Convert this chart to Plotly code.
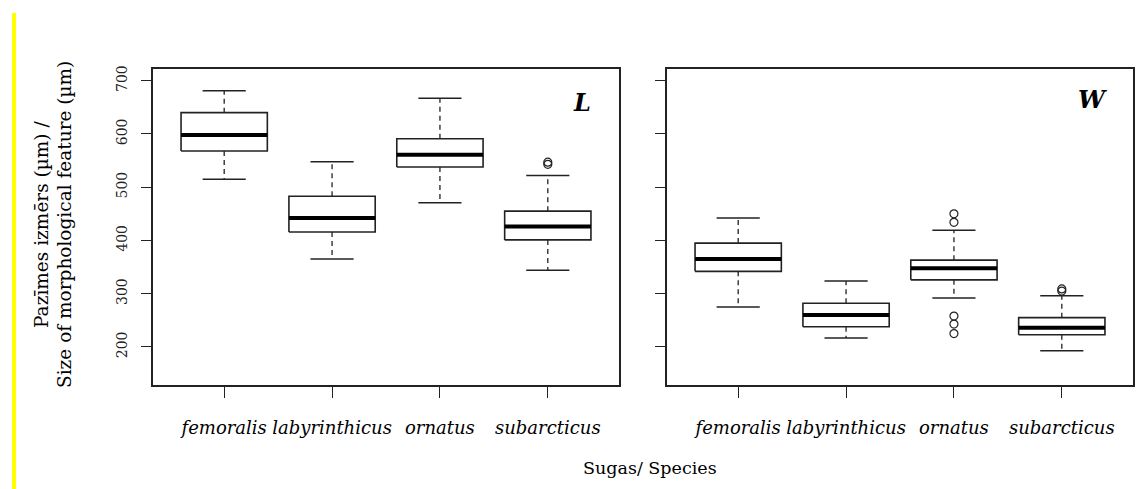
import plotly.graph_objects as go

# Species on the x axis (positions 1..4)
species = ["femoralis", "labyrinthicus", "ornatus", "subarcticus"]
positions = [1, 2, 3, 4]

# Length (L), µm: whisker ends, quartiles, median
L_lower = [515, 365, 471, 344]
L_q1 = [568, 416, 538, 401]
L_median = [598, 442, 561, 426]
L_q3 = [640, 483, 591, 455]
L_upper = [681, 548, 667, 522]
L_outliers = [[], [], [], [543, 547]]

# Width (W), µm
W_lower = [275, 217, 292, 193]
W_q1 = [342, 238, 326, 223]
W_median = [365, 260, 348, 236]
W_q3 = [395, 282, 363, 255]
W_upper = [442, 324, 419, 296]
W_outliers = [[], [], [450, 434, 258, 243, 225], [305, 309]]

y_ticks = [200, 300, 400, 500, 600, 700]

FONT = "DejaVu Serif"
INK = "#222222"
HALF = 0.4   # half box width
CAP = 0.2    # half staple width

fig = go.Figure()


def add_boxplots(lower, q1, med, q3, upper, outliers, xa, ya):
    bx, by, mx, my, wx, wy, cx, cy, ox, oy = ([] for _ in range(10))
    for p, lo, a, m, b, hi, outs in zip(positions, lower, q1, med, q3, upper, outliers):
        bx += [p - HALF, p + HALF, p + HALF, p - HALF, p - HALF, None]
        by += [a, a, b, b, a, None]
        mx += [p - HALF, p + HALF, None]
        my += [m, m, None]
        wx += [p, p, None, p, p, None]
        wy += [b, hi, None, a, lo, None]
        cx += [p - CAP, p + CAP, None, p - CAP, p + CAP, None]
        cy += [hi, hi, None, lo, lo, None]
        ox += [p] * len(outs)
        oy += list(outs)
    common = dict(xaxis=xa, yaxis=ya, showlegend=False, hoverinfo="skip")
    fig.add_trace(go.Scatter(x=wx, y=wy, mode="lines",
                             line=dict(color=INK, width=1.3, dash="5px,4px"), **common))
    fig.add_trace(go.Scatter(x=cx, y=cy, mode="lines",
                             line=dict(color=INK, width=1.5), **common))
    fig.add_trace(go.Scatter(x=bx, y=by, mode="lines", fill="toself", fillcolor="white",
                             line=dict(color=INK, width=1.6), **common))
    fig.add_trace(go.Scatter(x=mx, y=my, mode="lines",
                             line=dict(color="black", width=4), **common))
    fig.add_trace(go.Scatter(x=ox, y=oy, mode="markers",
                             marker=dict(symbol="circle-open", size=8, color=INK,
                                         line=dict(width=1.2)), **common))


add_boxplots(L_lower, L_q1, L_median, L_q3, L_upper, L_outliers, "x", "y")
add_boxplots(W_lower, W_q1, W_median, W_q3, W_upper, W_outliers, "x2", "y2")

xaxis_common = dict(
    range=[0.34, 4.66], tickmode="array", tickvals=positions,
    ticktext=[f"<i>{s}</i>" for s in species], tickangle=0,
    ticks="outside", ticklen=11, tickwidth=1.2, tickcolor=INK,
    showline=True, linecolor=INK, linewidth=1.5, mirror=True,
    showgrid=False, zeroline=False, automargin=False,
    tickfont=dict(family=FONT, size=18, color="black"), ticklabelstandoff=15,
)
yaxis_common = dict(
    range=[128.5, 722], tickmode="array", tickvals=y_ticks,
    ticks="outside", ticklen=10, tickwidth=1.2, tickcolor=INK,
    showline=True, linecolor=INK, linewidth=1.5, mirror=True,
    showgrid=False, zeroline=False, automargin=False,
    tickfont=dict(family=FONT, size=14, color="#222"), tickangle=-90,
    domain=[1 - 385 / 489, 1 - 69 / 489],
)

fig.update_layout(
    width=1142, height=489,
    margin=dict(l=0, r=0, t=0, b=0),
    paper_bgcolor="white", plot_bgcolor="white",
    font=dict(family=FONT),
    xaxis=dict(domain=[153 / 1142, 619 / 1142], anchor="y", **xaxis_common),
    xaxis2=dict(domain=[667 / 1142, 1133 / 1142], anchor="y2", **xaxis_common),
    yaxis=dict(anchor="x", showticklabels=True, ticklabelstandoff=9, **yaxis_common),
    yaxis2=dict(anchor="x2", showticklabels=False, **yaxis_common),
    shapes=[dict(type="rect", xref="paper", yref="paper",
                 x0=12 / 1142, x1=16 / 1142, y0=0, y1=1 - 13 / 489,
                 fillcolor="#FFFF00", line=dict(width=0), layer="below")],
    annotations=[
        dict(text="<b><i>L</i></b>", x=4.32, y=659, xref="x", yref="y", showarrow=False,
             xanchor="center", yanchor="middle",
             font=dict(family=FONT, size=24, color="black")),
        dict(text="<b><i>W</i></b>", x=4.28, y=664, xref="x2", yref="y2", showarrow=False,
             xanchor="center", yanchor="middle",
             font=dict(family=FONT, size=24, color="black")),
        dict(text="Sugas/ Species", x=650 / 1142, y=1 - 468 / 489, xref="paper", yref="paper",
             showarrow=False, xanchor="center", yanchor="middle",
             font=dict(family=FONT, size=17.5, color="black")),
        dict(text="Pazīmes izmērs (µm) /", x=41 / 1142, y=1 - 225 / 489,
             xref="paper", yref="paper", showarrow=False, textangle=-90,
             xanchor="center", yanchor="middle",
             font=dict(family=FONT, size=18.5, color="black")),
        dict(text="Size of morphological feature (µm)", x=64 / 1142, y=1 - 225 / 489,
             xref="paper", yref="paper", showarrow=False, textangle=-90,
             xanchor="center", yanchor="middle",
             font=dict(family=FONT, size=18.5, color="black")),
    ],
)

fig.write_html("out.html")
